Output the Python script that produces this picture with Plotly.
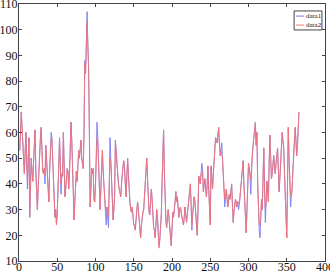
import plotly.graph_objects as go

days = list(range(1, 367))

data1 = [
    53, 60, 68, 62, 55, 48, 44, 52, 60, 50,
    38, 49, 58, 27, 40, 50, 45, 41, 48, 54,
    61, 45, 36, 30, 38, 47, 56, 58, 62, 52,
    45, 44, 46, 40, 55, 50, 44, 38, 33, 45,
    55, 60, 58, 50, 40, 32, 27, 30, 24, 29,
    35, 47, 58, 50, 36, 44, 43, 60, 48, 35,
    38, 42, 46, 45, 38, 44, 55, 64, 57, 49,
    38, 26, 33, 40, 45, 41, 47, 53, 50, 54,
    57, 50, 48, 46, 60, 88, 83, 96, 107, 95,
    85, 60, 31, 38, 46, 44, 46, 34, 33, 40,
    52, 64, 58, 50, 40, 30, 38, 47, 53, 45,
    40, 34, 30, 24, 31, 27, 23, 40, 58, 50,
    43, 34, 26, 30, 35, 57, 52, 48, 44, 40,
    38, 37, 35, 40, 45, 47, 49, 46, 40, 35,
    43, 50, 44, 36, 33, 30, 29, 31, 28, 24,
    24, 22, 26, 30, 33, 30, 26, 22, 19, 24,
    28, 29, 30, 35, 40, 46, 50, 42, 31, 29,
    28, 33, 38, 34, 28, 23, 22, 19, 24, 30,
    27, 20, 16, 18, 24, 28, 40, 55, 61, 45,
    32, 26, 23, 28, 30, 27, 22, 17, 16, 22,
    29, 27, 29, 33, 37, 33, 35, 31, 27, 30,
    31, 29, 27, 26, 24, 27, 31, 28, 25, 28,
    31, 35, 38, 40, 32, 22, 28, 31, 35, 33,
    27, 22, 20, 30, 43, 41, 40, 44, 48, 45,
    37, 40, 42, 38, 35, 40, 47, 38, 28, 24,
    47, 42, 38, 44, 49, 54, 58, 57, 56, 59,
    62, 56, 51, 53, 56, 50, 44, 38, 31, 35,
    38, 34, 31, 34, 36, 34, 38, 40, 32, 25,
    29, 33, 34, 33, 31, 33, 30, 32, 35, 38,
    42, 46, 49, 40, 32, 26, 21, 30, 47, 48,
    46, 43, 36, 46, 52, 55, 58, 62, 64, 55,
    60, 40, 28, 22, 19, 27, 34, 30, 42, 54,
    38, 25, 32, 41, 38, 33, 48, 59, 50, 42,
    44, 48, 51, 47, 44, 48, 53, 54, 46, 37,
    42, 50, 56, 60, 57, 54, 45, 37, 28, 19,
    40, 62, 50, 38, 31, 35, 38, 45, 53, 58,
    62, 57, 51, 55, 62, 68,
]

data2 = [
    53, 60, 68, 62, 55, 48, 44, 52, 60, 50,
    41, 49, 58, 27, 40, 50, 45, 41, 48, 54,
    61, 45, 36, 30, 38, 47, 56, 58, 62, 52,
    45, 44, 46, 43, 55, 50, 44, 38, 33, 45,
    55, 57, 58, 50, 40, 32, 27, 30, 24, 29,
    35, 47, 58, 50, 40, 44, 43, 60, 48, 35,
    38, 42, 46, 45, 38, 44, 55, 64, 57, 49,
    38, 26, 33, 40, 45, 41, 47, 53, 50, 54,
    57, 50, 48, 46, 60, 87, 83, 94, 103, 93,
    85, 60, 31, 38, 46, 44, 46, 34, 33, 40,
    52, 58, 56, 50, 40, 30, 38, 47, 53, 45,
    40, 34, 30, 30, 31, 27, 28, 40, 50, 48,
    43, 34, 26, 30, 35, 57, 52, 48, 44, 40,
    38, 37, 35, 40, 45, 47, 49, 46, 40, 35,
    43, 50, 44, 36, 33, 30, 29, 31, 28, 24,
    24, 22, 26, 30, 33, 30, 26, 22, 19, 24,
    28, 29, 30, 35, 40, 46, 50, 42, 31, 29,
    28, 33, 38, 34, 28, 23, 22, 19, 24, 30,
    27, 20, 15, 18, 24, 28, 40, 55, 61, 45,
    32, 26, 23, 28, 30, 27, 22, 17, 16, 22,
    29, 27, 29, 33, 37, 33, 35, 31, 27, 30,
    31, 29, 27, 26, 24, 27, 31, 28, 25, 28,
    31, 35, 38, 40, 32, 24, 28, 31, 35, 33,
    27, 22, 20, 30, 43, 41, 40, 44, 44, 45,
    37, 40, 42, 38, 35, 40, 47, 38, 28, 24,
    47, 42, 38, 44, 49, 54, 58, 57, 56, 59,
    62, 56, 51, 53, 52, 50, 44, 38, 34, 35,
    38, 34, 31, 34, 36, 34, 38, 40, 32, 25,
    29, 33, 34, 33, 31, 33, 33, 32, 35, 38,
    42, 46, 49, 40, 32, 26, 21, 30, 47, 48,
    46, 43, 42, 46, 52, 55, 58, 62, 64, 55,
    60, 40, 28, 24, 24, 27, 34, 30, 42, 54,
    38, 30, 32, 41, 38, 33, 48, 59, 50, 42,
    44, 48, 51, 47, 44, 48, 53, 54, 46, 37,
    42, 50, 56, 60, 57, 54, 45, 37, 28, 19,
    40, 62, 50, 38, 36, 35, 38, 45, 53, 58,
    62, 57, 51, 55, 62, 68,
]

series_names = ["data1", "data2"]
series_colors = ["rgb(120,120,245)", "rgb(245,115,115)"]

x_ticks = [0, 50, 100, 150, 200, 250, 300, 350, 400]
y_ticks = [10, 20, 30, 40, 50, 60, 70, 80, 90, 100, 110]

FONT = "Liberation Serif"

fig = go.Figure()
for name, vals, col in zip(series_names, [data1, data2], series_colors):
    fig.add_trace(go.Scatter(x=days, y=vals, mode="lines", name=name,
                             line=dict(color=col, width=0.9), showlegend=False,
                             hoverinfo="skip"))

axis_common = dict(showline=True, linecolor="#444444", linewidth=1, mirror="ticks",
                   ticks="inside", ticklen=3, tickcolor="#444444", showgrid=False,
                   zeroline=False, automargin=False, ticklabeloverflow="allow",
                   tickfont=dict(family=FONT, size=12, color="#111111"))

fig.update_xaxes(range=[0, 400.001], tickvals=x_ticks, ticktext=[str(v) for v in x_ticks],
                 ticklabelstandoff=-5, **axis_common)
fig.update_yaxes(range=[9.999, 110.001], tickvals=y_ticks, ticktext=[str(v) for v in y_ticks],
                 ticklabelstandoff=-2, **axis_common)

# legend box (drawn in paper coordinates)
shapes = [dict(type="rect", xref="paper", yref="paper", x0=0.899, x1=0.990,
               y0=0.899, y1=0.973, line=dict(color="#444444", width=1),
               fillcolor="white", layer="above")]
annotations = []
for i, (name, col) in enumerate(zip(series_names, series_colors)):
    yy = 0.953 - i * 0.035
    shapes.append(dict(type="line", xref="paper", yref="paper", x0=0.906, x1=0.932,
                       y0=yy, y1=yy, line=dict(color=col, width=1), layer="above"))
    annotations.append(dict(xref="paper", yref="paper", x=0.931, y=yy, text=name,
                            showarrow=False, xanchor="left", yanchor="middle",
                            font=dict(family=FONT, size=7, color="#111111")))

fig.update_layout(
    width=330, height=273,
    margin=dict(l=19, r=5, t=4, b=12),
    paper_bgcolor="white", plot_bgcolor="white",
    font=dict(family=FONT),
    showlegend=False, hovermode=False,
    shapes=shapes, annotations=annotations,
)

fig.write_html("out.html", config={"displayModeBar": False, "staticPlot": True},
               post_script="document.body.style.margin='0';document.body.style.overflow='hidden';")
